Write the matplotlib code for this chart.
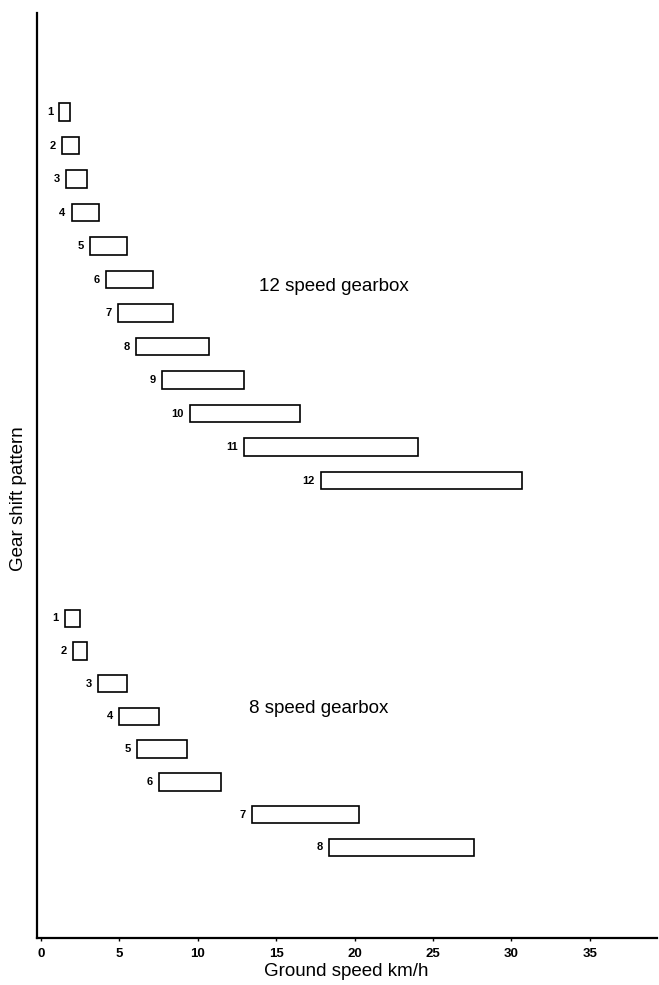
import matplotlib
matplotlib.use("Agg")
import matplotlib.pyplot as plt

# ---- data (ground speed ranges, km/h) ----
gears12 = [1, 2, 3, 4, 5, 6, 7, 8, 9, 10, 11, 12]
low12 = [1.17, 1.34, 1.58, 1.96, 3.13, 4.15, 4.89, 6.06, 7.70, 9.51, 12.97, 17.87]
high12 = [1.85, 2.41, 2.92, 3.70, 5.47, 7.13, 8.42, 10.74, 12.97, 16.53, 24.08, 30.68]

gears8 = [1, 2, 3, 4, 5, 6, 7, 8]
low8 = [1.53, 2.02, 3.62, 5.00, 6.15, 7.55, 13.48, 18.38]
high8 = [2.49, 2.95, 5.47, 7.55, 9.30, 11.47, 20.31, 27.63]

xticks = [0, 5, 10, 15, 20, 25, 30, 35]
title12 = "12 speed gearbox"
title8 = "8 speed gearbox"
xlabel = "Ground speed km/h"
ylabel = "Gear shift pattern"

plt.rcParams['font.family'] = ['Liberation Sans', 'DejaVu Sans']

fig = plt.figure(figsize=(6.59, 9.85), dpi=100)
ax = fig.add_axes([36.5 / 659, 1 - 938 / 985, (657 - 36.5) / 659, (938 - 13) / 985])

# layout of rows (inverted y, one unit per row)
start12, step12 = 2.955, 1.0
start8, step8 = 18.06, 0.976
bar_h = 0.52

def draw_group(gears, lows, highs, start, step):
    for i, (g, lo, hi) in enumerate(zip(gears, lows, highs)):
        y = start + i * step
        ax.barh(y, hi - lo, left=lo, height=bar_h, fill=False,
                edgecolor='black', linewidth=1.2)
        ax.text(lo - 0.4, y, str(g), ha='right', va='center',
                fontsize=8, fontweight='bold')

draw_group(gears12, low12, high12, start12, step12)
draw_group(gears8, low8, high8, start8, step8)

ax.text(13.9, 8.17, title12, ha='left', va='center', fontsize=13.5)
ax.text(13.3, 20.75, title8, ha='left', va='center', fontsize=13.5)

ax.set_xlim(-0.29, 39.3)
ax.set_ylim(27.6, 0)
ax.set_xticks(xticks)
ax.set_xticklabels([str(t) for t in xticks], fontsize=9.5, fontweight='bold')
ax.set_yticks([])
ax.tick_params(axis='x', length=2, width=1, pad=5)
for s in ['top', 'right']:
    ax.spines[s].set_visible(False)
for s in ['left', 'bottom']:
    ax.spines[s].set_linewidth(1.6)

ax.set_xlabel(xlabel, fontsize=13.5, labelpad=2)
ax.set_ylabel(ylabel, fontsize=13.5)
ax.yaxis.set_label_coords(-9 / 620.5, 0.475)

fig.savefig("out.png", dpi=100)
